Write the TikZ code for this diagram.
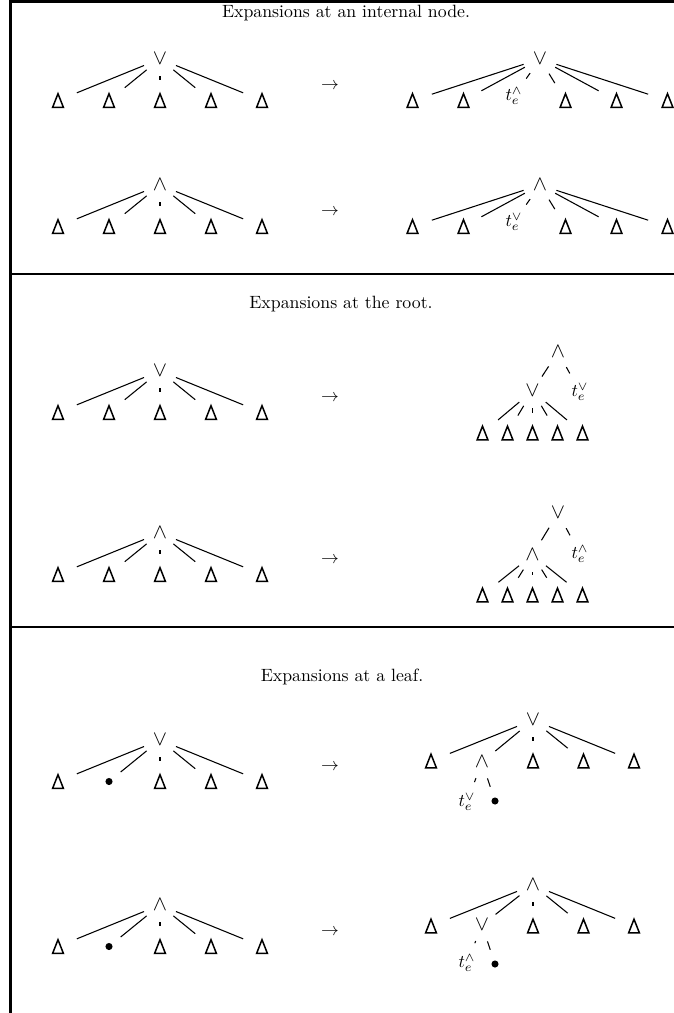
\documentclass[tikz,border=0pt]{standalone}
\begin{document}
\begin{tikzpicture}[x=0.5625pt,y=-0.5625pt]
\tikzset{
  intn/.style={circle, inner sep=0pt, minimum size=19pt, font=\large},
  lf/.style={circle, inner sep=0pt, minimum size=22.5pt,
    path picture={\draw[line width=0.85pt, line join=miter]
      ([shift={(0,-6.8)}]path picture bounding box.center) --
      ([shift={(-5.4,6.9)}]path picture bounding box.center) --
      ([shift={(5.4,6.9)}]path picture bounding box.center) -- cycle;}},
  ten/.style={circle, inner sep=0pt, minimum size=23.5pt},
  bul/.style={circle, inner sep=0pt, minimum size=16.5pt,
    path picture={\fill (path picture bounding box.center) circle (2pt);}},
  tedge/.style={line width=0.6pt},
  rulel/.style={line width=1.5pt},
  arr/.style={inner sep=0pt},
  ttl/.style={anchor=base, inner sep=0pt}
}
\newcommand\ltree[4]{%
  \node[intn] (#1r) at (160,#2) {$#3$};
  \foreach \k/\xx in {1/58,3/160,4/211,5/262}{
    \node[lf] (#1c\k) at (\xx,#2+41.5) {};
    \draw[tedge] (#1r) -- (#1c\k);
  }
  \node[#4] (#1c2) at (109,#2+41.5) {};
  \draw[tedge] (#1r) -- (#1c2);
  \node[arr] (#1a) at (330,#2+27) {$\rightarrow$};
}
\useasboundingbox (0,0) rectangle (673,1013);
% frame
\coordinate (fa) at (10.3,-5);
\coordinate (fb) at (10.3,1020);
\coordinate (h1a) at (10.3,1.3);
\coordinate (h1b) at (690,1.3);
\coordinate (h2a) at (10.3,274);
\coordinate (h2b) at (690,274);
\coordinate (h3a) at (10.3,627);
\coordinate (h3b) at (690,627);
\draw[rulel] (fa) -- (fb);
\draw[rulel] (h1a) -- (h1b);
\draw[rulel] (h2a) -- (h2b);
\draw[rulel] (h3a) -- (h3b);
% titles
\node[ttl] (T1) at (346,17.5) {Expansions at an internal node.};
\node[ttl] (T2) at (341,309) {Expansions at the root.};
\node[ttl] (T3) at (342,681) {Expansions at a leaf.};
% ---------- section 1 ----------
\ltree{A}{59}{\vee}{lf}
\node[intn] (Br) at (540,59) {$\vee$};
\foreach \k/\xx in {0/412.5,1/463.5,3/565.5,4/616.5,5/667.5}{
  \node[lf] (Bc\k) at (\xx,100.5) {};
  \draw[tedge] (Br) -- (Bc\k);
}
\node[ten] (Bc2) at (514,96) {$t_e^{\wedge}$};
\draw[tedge] (Br) -- (Bc2);
\ltree{C}{185}{\wedge}{lf}
\node[intn] (Dr) at (540,185) {$\wedge$};
\foreach \k/\xx in {0/412.5,1/463.5,3/565.5,4/616.5,5/667.5}{
  \node[lf] (Dc\k) at (\xx,226.5) {};
  \draw[tedge] (Dr) -- (Dc\k);
}
\node[ten] (Dc2) at (514,222) {$t_e^{\vee}$};
\draw[tedge] (Dr) -- (Dc2);
% ---------- section 2 ----------
\ltree{E}{371}{\vee}{lf}
\node[intn] (Fr) at (558,352) {$\wedge$};
\node[intn] (Fs) at (532.5,391) {$\vee$};
\node[ten] (Ft) at (580,392) {$t_e^{\vee}$};
\draw[tedge] (Fr) -- (Fs);
\draw[tedge] (Fr) -- (Ft);
\foreach \k/\xx in {1/482.5,2/507.5,3/532.5,4/557.5,5/582.5}{
  \node[lf] (Fc\k) at (\xx,433) {};
  \draw[tedge] (Fs) -- (Fc\k);
}
\ltree{G}{533}{\wedge}{lf}
\node[intn] (Hr) at (558,513) {$\vee$};
\node[intn] (Hs) at (532.5,555) {$\wedge$};
\node[ten] (Ht) at (580,554) {$t_e^{\wedge}$};
\draw[tedge] (Hr) -- (Hs);
\draw[tedge] (Hr) -- (Ht);
\foreach \k/\xx in {1/482.5,2/507.5,3/532.5,4/557.5,5/582.5}{
  \node[lf] (Hc\k) at (\xx,595) {};
  \draw[tedge] (Hs) -- (Hc\k);
}
% ---------- section 3 ----------
\ltree{I}{740}{\vee}{bul}
\node[intn] (Jr) at (533,720) {$\vee$};
\foreach \k/\xx in {1/431,3/533,4/583.5,5/634}{
  \node[lf] (Jc\k) at (\xx,761) {};
  \draw[tedge] (Jr) -- (Jc\k);
}
\node[intn] (Jc2) at (482,762) {$\wedge$};
\draw[tedge] (Jr) -- (Jc2);
\node[ten] (Jt) at (467,802) {$t_e^{\vee}$};
\node[bul] (Jb) at (495,801) {};
\draw[tedge] (Jc2) -- (Jt);
\draw[tedge] (Jc2) -- (Jb);
\ltree{K}{905}{\wedge}{bul}
\node[intn] (Lr) at (533,885) {$\wedge$};
\foreach \k/\xx in {1/431,3/533,4/583.5,5/634}{
  \node[lf] (Lc\k) at (\xx,926) {};
  \draw[tedge] (Lr) -- (Lc\k);
}
\node[intn] (Lc2) at (482,925) {$\vee$};
\draw[tedge] (Lr) -- (Lc2);
\node[ten] (Lt) at (467,963) {$t_e^{\wedge}$};
\node[bul] (Lb) at (495,964) {};
\draw[tedge] (Lc2) -- (Lt);
\draw[tedge] (Lc2) -- (Lb);
\end{tikzpicture}
\end{document}
